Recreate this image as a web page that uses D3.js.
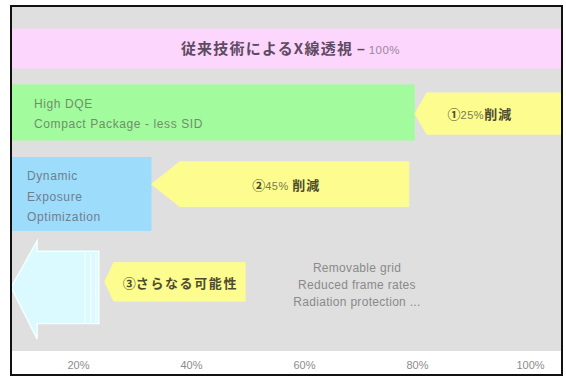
<!DOCTYPE html>
<html>
<head>
<meta charset="utf-8">
<script src="https://cdn.jsdelivr.net/npm/d3@7"></script>
<style>
  html, body { margin: 0; padding: 0; background: #ffffff; }
  svg { display: block; }
</style>
</head>
<body>
<svg id="chart" width="566" height="378"></svg>
<script>
// ---- data ----
// dose levels (% of conventional fluoroscopy) reached by each technology step
const stepKeys    = ["conventional", "highDQE", "deo"];
const stepValues  = [100, 75, 30];
const stepLines   = [
  ["従来技術によるX線透視"],
  ["High DQE", "Compact Package - less SID"],
  ["Dynamic", "Exposure", "Optimization"]
];
const baselineSuffix = "100%";

// reduction arrows: [tip value, tail value]
const reductionSpans  = [[75, 100], [30, 74], [22, 46]];
const reductionMarks  = ["①", "②", "③"];
const reductionPct    = ["25%", "45% ", ""];
const reductionWords  = ["削減", "削減", "さらなる可能性"];

// further potential (pale arrow) span and its measures
const potentialSpan  = [6, 21];
const potentialItems = ["Removable grid", "Reduced frame rates", "Radiation protection ..."];

// bottom scale labels
const tickLabels = ["20%", "40%", "60%", "80%", "100%"];

// ---- layout ----
const svg = d3.select("#chart");
const frame = { left: 12, right: 562, top: 7, plotBottom: 351, bottom: 375 };

const x = d3.scaleLinear().domain([0, 100]).range([-24, 561]);
const tickScale = d3.scalePoint().domain(tickLabels).range([78, 530]);

// vertical layout in row units
const y = d3.scaleLinear().domain([0, 100]).range([frame.top, frame.plotBottom]);
const rowBand = {
  conventional: [6.3, 17.9],
  highDQE:      [22.5, 38.8],
  deo:          [43.6, 65.1],
  arrow1:       [25.0, 37.0],
  arrow2:       [45.0, 58.0],
  arrow3:       [74.3, 85.5],
  potential:    [68.0, 96.5],
  potentialBody:[71.0, 92.0]
};

const fillColors = { conventional: "#fdd6fd", highDQE: "#a2fb9c", deo: "#9edcfb" };
const textColors = { conventional: "#5e4a62", highDQE: "#6f8f6c", deo: "#6d7f90" };
const arrowFill = "#fdfc8e";
const headDepth = [12, 28, 9];
const latin = "'Liberation Sans', Arial, sans-serif";
const cjk = "'Noto Sans CJK JP', 'Noto Sans CJK SC', sans-serif";

// frame and backgrounds
svg.append("rect")
  .attr("x", frame.left).attr("y", frame.top)
  .attr("width", frame.right - frame.left).attr("height", frame.plotBottom - frame.top)
  .attr("fill", "#dfdfdf");

svg.append("defs").append("clipPath").attr("id", "plotClip")
  .append("rect")
  .attr("x", frame.left).attr("y", frame.top)
  .attr("width", frame.right - frame.left - 1).attr("height", frame.plotBottom - frame.top);

const plot = svg.append("g").attr("clip-path", "url(#plotClip)");

// step bars
plot.selectAll("rect.step")
  .data(stepKeys)
  .join("rect")
  .attr("class", "step")
  .attr("x", x(0))
  .attr("y", k => y(rowBand[k][0]))
  .attr("width", (k, i) => x(stepValues[i]) - x(0))
  .attr("height", k => y(rowBand[k][1]) - y(rowBand[k][0]))
  .attr("fill", k => fillColors[k]);

// conventional title centred in its band
const titleText = plot.append("text")
  .attr("x", (frame.left + x(stepValues[0])) / 2 + 4)
  .attr("y", (y(rowBand.conventional[0]) + y(rowBand.conventional[1])) / 2)
  .attr("dy", "0.36em")
  .attr("text-anchor", "middle");
titleText.append("tspan")
  .attr("font-family", cjk).attr("font-size", 15).attr("font-weight", 700)
  .attr("letter-spacing", 1.2)
  .attr("fill", textColors.conventional)
  .text(stepLines[0][0]);
titleText.append("tspan")
  .attr("font-family", latin).attr("font-size", 14).attr("font-weight", 700)
  .attr("fill", textColors.conventional)
  .text(" – ");
titleText.append("tspan")
  .attr("font-family", latin).attr("font-size", 11.5)
  .attr("letter-spacing", 0.5)
  .attr("fill", "#9a879c")
  .text(baselineSuffix);

// multi-line labels inside the green and blue bars
[["highDQE", 1, 34, 104, 20], ["deo", 2, 27, 176, 20.5]].forEach(([k, i, tx, ty, lh]) => {
  plot.append("g").selectAll("text")
    .data(stepLines[i])
    .join("text")
    .attr("x", tx)
    .attr("y", (d, j) => ty + j * lh)
    .attr("dy", "0.36em")
    .attr("font-family", latin)
    .attr("font-size", 12)
    .attr("letter-spacing", 0.6)
    .attr("fill", textColors[k])
    .text(d => d);
});

// left-pointing arrow path
function arrowPath(x0, x1, y0, y1, depth, h0, h1) {
  const ym = (y0 + y1) / 2;
  const p = d3.path();
  p.moveTo(x0, ym);
  p.lineTo(x0 + depth, h0 === undefined ? y0 : h0);
  if (h0 !== undefined) p.lineTo(x0 + depth, y0);
  p.lineTo(x1, y0);
  p.lineTo(x1, y1);
  if (h1 !== undefined) { p.lineTo(x0 + depth, y1); p.lineTo(x0 + depth, h1); }
  else p.lineTo(x0 + depth, y1);
  p.closePath();
  return p.toString();
}

// pale arrow for the remaining potential
const pY0 = y(rowBand.potential[0]), pY1 = y(rowBand.potential[1]);
const bY0 = y(rowBand.potentialBody[0]), bY1 = y(rowBand.potentialBody[1]);
const px0 = x(potentialSpan[0]), px1 = x(potentialSpan[1]);
plot.append("path")
  .attr("d", arrowPath(px0, px1, bY0, bY1, 26, pY0, pY1))
  .attr("fill", "#dafaff")
  .attr("stroke", "#f4ffff")
  .attr("stroke-width", 1.5);
[-14, -8, -3].forEach(off => {
  plot.append("line")
    .attr("x1", px1 + off).attr("x2", px1 + off)
    .attr("y1", bY0 + 2).attr("y2", bY1 - 2)
    .attr("stroke", "#f7ffff").attr("stroke-width", 1.2);
});

// yellow reduction arrows
const arrowRows = ["arrow1", "arrow2", "arrow3"];
const arrows = plot.selectAll("g.reduction")
  .data(reductionSpans)
  .join("g")
  .attr("class", "reduction");

arrows.append("path")
  .attr("d", (s, i) => {
    const r = rowBand[arrowRows[i]];
    return arrowPath(x(s[0]), x(s[1]), y(r[0]), y(r[1]), headDepth[i]);
  })
  .attr("fill", arrowFill)
  .attr("stroke", "#fbfa9c")
  .attr("stroke-width", 1)
  .attr("stroke-linejoin", "round");

const labelOffset = [-14, -8, 1];
const arrowText = arrows.append("text")
  .attr("x", (s, i) => (x(s[0]) + headDepth[i] + x(s[1])) / 2 + labelOffset[i])
  .attr("y", (s, i) => (y(rowBand[arrowRows[i]][0]) + y(rowBand[arrowRows[i]][1])) / 2)
  .attr("dy", "0.36em")
  .attr("text-anchor", "middle");
arrowText.append("tspan")
  .attr("font-family", cjk).attr("font-size", 13).attr("font-weight", 700)
  .attr("fill", "#4e4c2e")
  .text((d, i) => reductionMarks[i]);
arrowText.append("tspan")
  .attr("font-family", latin).attr("font-size", 11)
  .attr("letter-spacing", 0.5)
  .attr("fill", "#7a7850")
  .text((d, i) => reductionPct[i]);
arrowText.append("tspan")
  .attr("font-family", cjk).attr("font-size", 13).attr("font-weight", 700)
  .attr("letter-spacing", (d, i) => i === 2 ? 1.6 : 1)
  .attr("fill", "#4e4c2e")
  .text((d, i) => reductionWords[i]);

// measures still available
plot.append("g").selectAll("text")
  .data(potentialItems)
  .join("text")
  .attr("x", 357)
  .attr("y", (d, i) => 268 + i * 17)
  .attr("dy", "0.36em")
  .attr("text-anchor", "middle")
  .attr("font-family", latin)
  .attr("font-size", 12)
  .attr("letter-spacing", 0.3)
  .attr("fill", "#8a8a8a")
  .text(d => d);

// bottom scale
const axis = d3.axisBottom(tickScale).tickSize(0).tickPadding(0);
const axisG = svg.append("g")
  .attr("transform", `translate(0, ${frame.plotBottom + 10})`)
  .call(axis);
axisG.select(".domain").remove();
axisG.selectAll("text")
  .attr("font-family", latin)
  .attr("font-size", 11)
  .attr("fill", "#8c8c8c");

// outer border
svg.append("rect")
  .attr("x", frame.left - 1).attr("y", frame.top - 1)
  .attr("width", frame.right - frame.left + 1).attr("height", frame.bottom - frame.top + 1)
  .attr("fill", "none")
  .attr("stroke", "#111")
  .attr("stroke-width", 2);
</script>
</body>
</html>
